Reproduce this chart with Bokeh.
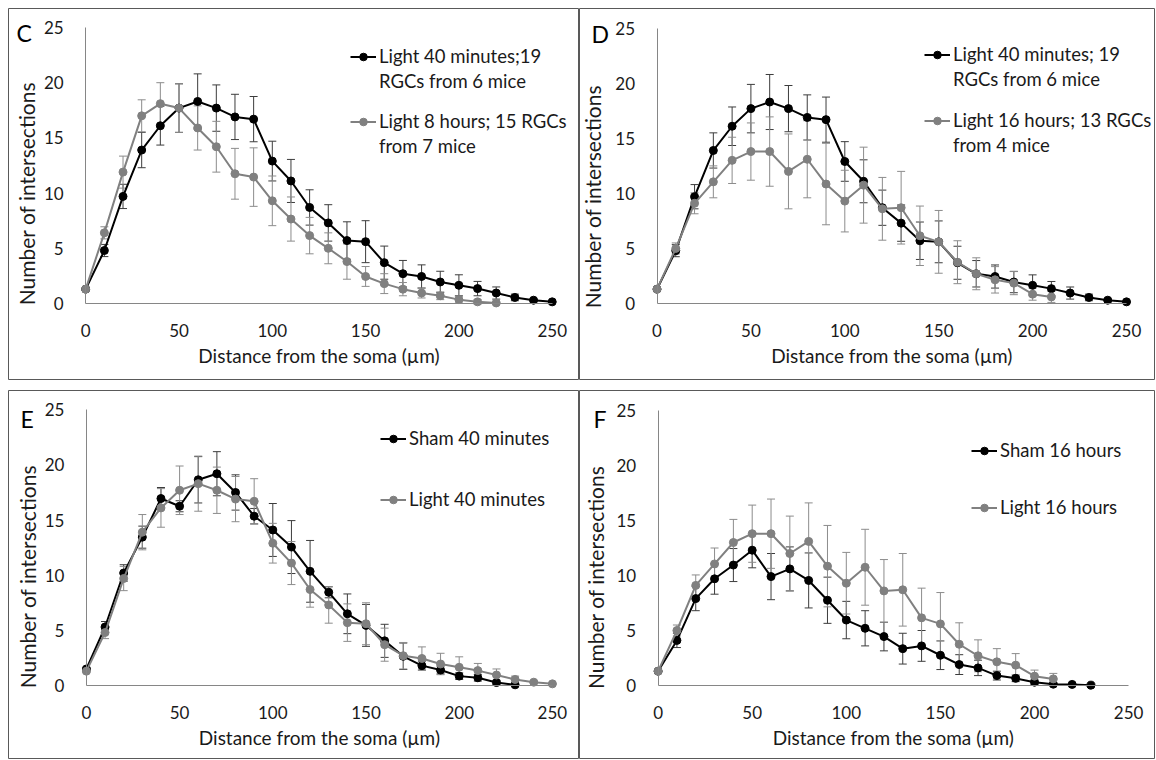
import math
from bokeh.plotting import figure
from bokeh.models import (Range1d, FixedTicker, Label, Legend, LegendItem, Whisker,
                          ColumnDataSource, TeeHead, LinearAxis, Spacer)
from bokeh.layouts import row, column
from bokeh.embed import file_html
from bokeh.resources import INLINE

# ---------------- data ----------------
distance = [0, 10, 20, 30, 40, 50, 60, 70, 80, 90, 100, 110, 120, 130, 140, 150,
            160, 170, 180, 190, 200, 210, 220, 230, 240, 250]

light40 = [1.3, 4.8, 9.7, 13.9, 16.1, 17.7, 18.3, 17.7, 16.9, 16.7, 12.9, 11.1, 8.7,
           7.3, 5.7, 5.6, 3.7, 2.7, 2.45, 1.95, 1.65, 1.35, 0.95, 0.55, 0.3, 0.15]
light40_err = [0.1, 0.55, 1.1, 1.6, 1.75, 2.2, 2.5, 2.1, 2.05, 2.05, 1.8, 1.95, 1.6,
               1.65, 1.7, 1.9, 1.5, 1.2, 1.05, 0.97, 0.95, 0.65, 0.55, 0.3, 0.1, 0.05]

light8 = [1.3, 6.4, 11.9, 17.0, 18.1, 17.7, 15.9, 14.2, 11.75, 11.45, 9.3, 7.65, 6.15,
          5.0, 3.8, 2.45, 1.8, 1.3, 0.95, 0.7, 0.35, 0.15, 0.05]
light8_err = [0.1, 0.55, 1.45, 1.45, 1.9, 2.2, 2.0, 2.3, 2.3, 2.65, 2.25, 2.0, 1.65,
              1.4, 1.6, 0.9, 0.9, 0.6, 0.45, 0.35, 0.3, 0.2, 0.1]

light16 = [1.3, 5.0, 9.1, 11.05, 13.0, 13.8, 13.8, 12.0, 13.1, 10.85, 9.3, 10.75, 8.6,
           8.7, 6.15, 5.6, 3.75, 2.7, 2.15, 1.85, 0.85, 0.6]
light16_err = [0.1, 0.5, 0.95, 1.45, 2.1, 2.6, 3.15, 3.4, 3.5, 3.7, 2.8, 3.45, 2.85,
               3.3, 2.7, 2.85, 1.95, 1.45, 1.2, 1.05, 0.55, 0.5]

sham40 = [1.5, 5.3, 10.2, 13.45, 16.95, 16.25, 18.65, 19.2, 17.5, 15.35, 14.1, 12.55,
          10.35, 8.45, 6.5, 5.45, 4.05, 2.65, 1.8, 1.4, 0.85, 0.7, 0.27, 0.06]
sham40_err = [0.1, 0.5, 0.75, 1.0, 1.0, 0.5, 2.1, 2.0, 1.6, 0.7, 2.4, 2.4, 2.8, 0.5,
              1.8, 1.9, 1.5, 1.2, 0.4, 0.35, 0.3, 0.3, 0.2, 0.1]

sham16 = [1.3, 4.1, 7.9, 9.7, 10.95, 12.3, 9.9, 10.6, 9.55, 7.75, 5.95, 5.2, 4.45, 3.35,
          3.6, 2.75, 1.9, 1.6, 0.9, 0.65, 0.3, 0.12, 0.1, 0.03]
sham16_err = [0.1, 0.65, 1.1, 1.4, 1.5, 1.6, 2.1, 2.0, 2.5, 2.1, 1.7, 1.6, 1.3, 1.4,
              1.4, 1.3, 0.9, 0.7, 0.4, 0.3, 0.2, 0.1, 0.1, 0.05]

x_ticks = [0, 50, 100, 150, 200, 250]
y_ticks = [0, 5, 10, 15, 20, 25]
x_title = "Distance from the soma (µm)"
y_title = "Number of intersections"

FONT = "Lato"
BLACK = "#000000"
GRAY = "#808080"
BAR_BLACK = "#3c3c3c"
BAR_GRAY = "#8c8c8c"
TEXT = "#1a1a1a"


def add_series(p, ys, errs, color, bar_color):
    xs = distance[:len(ys)]
    src = ColumnDataSource(dict(x=xs, y=ys,
                                upper=[v + e for v, e in zip(ys, errs)],
                                lower=[v - e for v, e in zip(ys, errs)]))
    w = Whisker(source=src, base="x", upper="upper", lower="lower",
                line_color=bar_color, line_width=1, level="underlay",
                upper_head=TeeHead(size=8, line_color=bar_color, line_width=1),
                lower_head=TeeHead(size=8, line_color=bar_color, line_width=1))
    p.add_layout(w)
    lr = p.line("x", "y", source=src, line_color=color, line_width=2)
    sr = p.scatter("x", "y", source=src, size=8, fill_color=color, line_color=color)
    return [lr, sr]


def make_panel(letter, W, H, ox, oy, sx, sy, s1, s2, legends, letter_pos, ytitle_pos):
    # the plot frame covers the whole panel; the axes sit at data 0
    xr = Range1d(-ox / sx, (W - ox) / sx)
    yr = Range1d(-(H - oy) / sy, oy / sy)
    p = figure(width=W, height=H, x_range=xr, y_range=yr,
               output_backend="svg", toolbar_location=None,
               x_axis_location=None, y_axis_location=None,
               min_border=0)
    p.outline_line_color = "#595959"
    p.outline_line_width = 1
    p.grid.visible = False
    p.background_fill_color = "white"

    def dx(cx):
        return (cx - ox) / sx

    def dy(cy):
        return (oy - cy) / sy

    xa = LinearAxis(fixed_location=0, bounds=(0, 250), ticker=FixedTicker(ticks=x_ticks))
    ya = LinearAxis(fixed_location=0, bounds=(0, 25), ticker=FixedTicker(ticks=y_ticks))
    for ax in (xa, ya):
        ax.axis_line_color = "#868686"
        ax.axis_line_width = 1
        ax.major_tick_line_color = None
        ax.minor_tick_line_color = None
        ax.major_label_text_font = FONT
        ax.major_label_text_font_size = "17px"
        ax.major_label_text_color = TEXT
    xa.major_label_standoff = 14
    ya.major_label_standoff = 16
    p.add_layout(xa, "below")
    p.add_layout(ya, "left")

    # axis titles and panel letter
    p.add_layout(Label(x=125, y=dy(oy + 52), text=x_title,
                       text_align="center", text_baseline="middle",
                       text_font=FONT, text_font_size="19px", text_color=TEXT))
    p.add_layout(Label(x=dx(ytitle_pos[0]), y=dy(ytitle_pos[1]), text=y_title,
                       angle=math.pi / 2, text_align="center", text_baseline="middle",
                       text_font=FONT, text_font_size="21px", text_color=TEXT))
    p.add_layout(Label(x=dx(letter_pos[0]), y=dy(letter_pos[1]), text=letter,
                       text_align="left", text_baseline="middle", text_font=FONT,
                       text_font_size="23px", text_color="#000000"))

    r1 = add_series(p, s1[0], s1[1], BLACK, BAR_BLACK)
    r2 = add_series(p, s2[0], s2[1], GRAY, BAR_GRAY)
    rs = {"r1": r1, "r2": r2}

    for (lx, ly, spacing, entries) in legends:
        items = []
        for key, label in entries:
            if key is None:
                dummy = p.line(x=[], y=[], line_alpha=0)
                items.append(LegendItem(label=label, renderers=[dummy]))
            else:
                items.append(LegendItem(label=label, renderers=rs[key]))
        lg = Legend(items=items, location=(lx, ly), orientation="vertical",
                    spacing=spacing, padding=0, margin=0,
                    label_text_font=FONT, label_text_font_size="18.5px",
                    label_text_color=TEXT, glyph_width=26, glyph_height=19,
                    label_height=22, label_standoff=3,
                    border_line_color=None, background_fill_alpha=0)
        p.add_layout(lg)
    return p


pC = make_panel("C", 571, 372, 77.2, 295, 1.866, 11.04,
                (light40, light40_err), (light8, light8_err),
                [(342, 288, 3, [("r1", "Light 40 minutes;19"), (None, "RGCs from 6 mice")]),
                 (342, 223, 3, [("r2", "Light 8 hours; 15 RGCs"), (None, "from 7 mice")])],
                (8, 24), (18, 185))
pD = make_panel("D", 576, 372, 77.5, 295, 1.878, 11.01,
                (light40, light40_err), (light16, light16_err),
                [(345, 290, 3, [("r1", "Light 40 minutes; 19"), (None, "RGCs from 6 mice")]),
                 (345, 224, 3, [("r2", "Light 16 hours; 13 RGCs"), (None, "from 4 mice")])],
                (12, 25), (13, 188))
pE = make_panel("E", 571, 369, 77.9, 295, 1.864, 11.03,
                (sham40, sham40_err), (light40, light40_err),
                [(372, 249, 39, [("r1", "Sham 40 minutes"), ("r2", "Light 40 minutes")])],
                (12, 28), (18.6, 186))
pF = make_panel("F", 576, 369, 78.6, 295, 1.882, 11.0,
                (sham16, sham16_err), (light16, light16_err),
                [(392, 241, 35, [("r1", "Sham 16 hours"), ("r2", "Light 16 hours")])],
                (14, 28), (16.4, 186.7))

layout = column(
    Spacer(height=8),
    row(Spacer(width=8), pC, pD),
    Spacer(height=10),
    row(Spacer(width=8), pE, pF),
)

with open("out.html", "w") as f:
    f.write(file_html(layout, INLINE))
